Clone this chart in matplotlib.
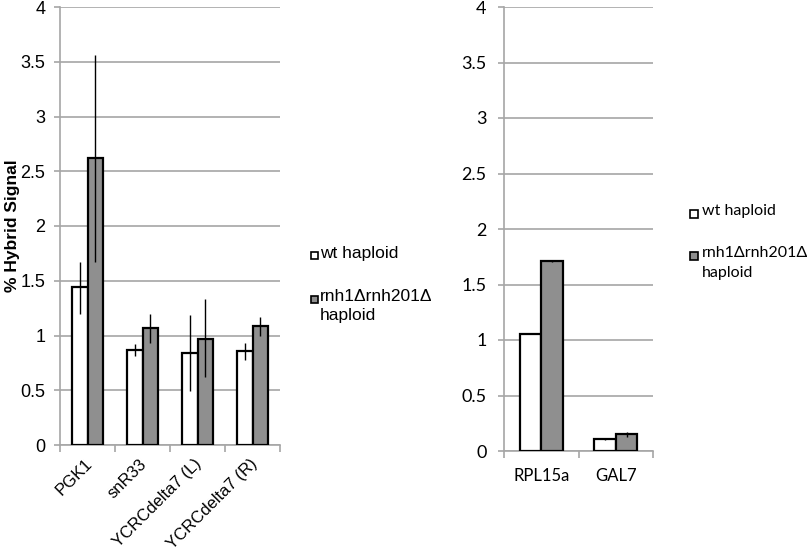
import numpy as np
import matplotlib
matplotlib.use("Agg")
import matplotlib.pyplot as plt
from matplotlib.patches import Rectangle
from matplotlib.transforms import ScaledTranslation

# left panel
genes_a = ["PGK1", "snR33", "YCRCdelta7 (L)", "YCRCdelta7 (R)"]
wt_a = [1.44, 0.87, 0.84, 0.86]
wt_a_lo = [1.20, 0.81, 0.49, 0.78]
wt_a_hi = [1.67, 0.92, 1.19, 0.93]
mut_a = [2.62, 1.07, 0.97, 1.09]
mut_a_lo = [1.67, 0.93, 0.62, 1.00]
mut_a_hi = [3.56, 1.20, 1.33, 1.17]

# right panel
genes_b = ["RPL15a", "GAL7"]
wt_b = [1.05, 0.11]
wt_b_lo = [1.05, 0.10]
wt_b_hi = [1.05, 0.12]
mut_b = [1.71, 0.15]
mut_b_lo = [1.70, 0.13]
mut_b_hi = [1.72, 0.17]

series = ["wt haploid", "rnh1\u0394rnh201\u0394\nhaploid"]
colors = ["white", "#8f8f8f"]
grid_c = "#a6a6a6"

W, H = 807, 552
fig = plt.figure(figsize=(W/100, H/100), dpi=100)
ax1 = fig.add_axes([60/W, 1-445/H, 220/W, 438/H])
ax2 = fig.add_axes([504/W, 1-451/H, 149/W, 444/H])

w = 0.29


def draw(ax, genes, wt, wlo, whi, mut, mlo, mhi, font, size, pad):
    x = np.arange(len(genes))
    for vals, lo, hi, off, c in [(wt, wlo, whi, -w/2, colors[0]), (mut, mlo, mhi, w/2, colors[1])]:
        vals = np.array(vals)
        ax.bar(x + off, vals, w, color=c, edgecolor="black", linewidth=1.6, zorder=3)
        err = [vals - np.array(lo), np.array(hi) - vals]
        ax.errorbar(x + off, vals, yerr=err, fmt="none", ecolor="black", elinewidth=1.0, capsize=0, zorder=4)
    ax.set_xlim(-0.5, len(genes) - 0.5)
    ax.set_ylim(0, 4)
    ax.set_yticks(np.arange(0, 4.01, 0.5))
    ax.set_yticklabels(["0", "0.5", "1", "1.5", "2", "2.5", "3", "3.5", "4"], fontsize=size, family=font)
    ax.yaxis.grid(True, color=grid_c, linewidth=1.2, zorder=0)
    ax.set_axisbelow(True)
    for s in ["top", "right"]:
        ax.spines[s].set_visible(False)
    for s in ["left", "bottom"]:
        ax.spines[s].set_color(grid_c)
        ax.spines[s].set_linewidth(1.2)
    ax.tick_params(axis="y", length=4, color=grid_c, width=1.2, pad=pad)
    ax.set_xticks(np.arange(-0.5, len(genes), 1.0), minor=False)
    ax.set_xticklabels([])
    ax.tick_params(axis="x", which="major", length=5, color=grid_c, width=1.2)
    ax.set_xticks(x, minor=True)
    ax.tick_params(axis="x", which="minor", length=0)


draw(ax1, genes_a, wt_a, wt_a_lo, wt_a_hi, mut_a, mut_a_lo, mut_a_hi, "Liberation Sans", 13, 6.5)
ax1.set_xticklabels(genes_a, minor=True, rotation=45, ha="right", va="center", rotation_mode="anchor",
                    fontsize=12, family="Liberation Sans")
ax1.tick_params(axis="x", which="minor", pad=12)
shift = ScaledTranslation(2/100, 0, fig.dpi_scale_trans)
for lab in ax1.get_xticklabels(minor=True):
    lab.set_transform(lab.get_transform() + shift)
fig.text(13/W, 1-226/H, "% Hybrid Signal", rotation=90, ha="center", va="center",
         fontsize=12.5, fontweight="bold", family="Liberation Sans")

draw(ax2, genes_b, wt_b, wt_b_lo, wt_b_hi, mut_b, mut_b_lo, mut_b_hi, "Lato", 13, 8.5)
ax2.set_xticklabels(genes_b, minor=True, fontsize=12, family="Lato")
ax2.tick_params(axis="x", which="minor", pad=12)


# centers = vertical centre of the first text line of each entry
def legend_c(x_box, x_txt, centers, size, font, box, ls):
    half = size * 1.39 * 0.6
    for (y, lab, c) in zip(centers, series, colors):
        fig.patches.append(Rectangle((x_box/W, 1-(y+box/2)/H), box/W, box/H, facecolor=c,
                                     edgecolor="black", linewidth=1.2, transform=fig.transFigure))
        fig.text(x_txt/W, 1-(y-half)/H, lab, ha="left", va="top", fontsize=size, family=font,
                 linespacing=ls, transform=fig.transFigure)


legend_c(311, 320, [256, 299], 12.5, "Liberation Sans", 7, 1.4)
legend_c(690, 702, [214, 256], 11.5, "Lato", 8, 1.5)

fig.savefig("out.png", dpi=100)
